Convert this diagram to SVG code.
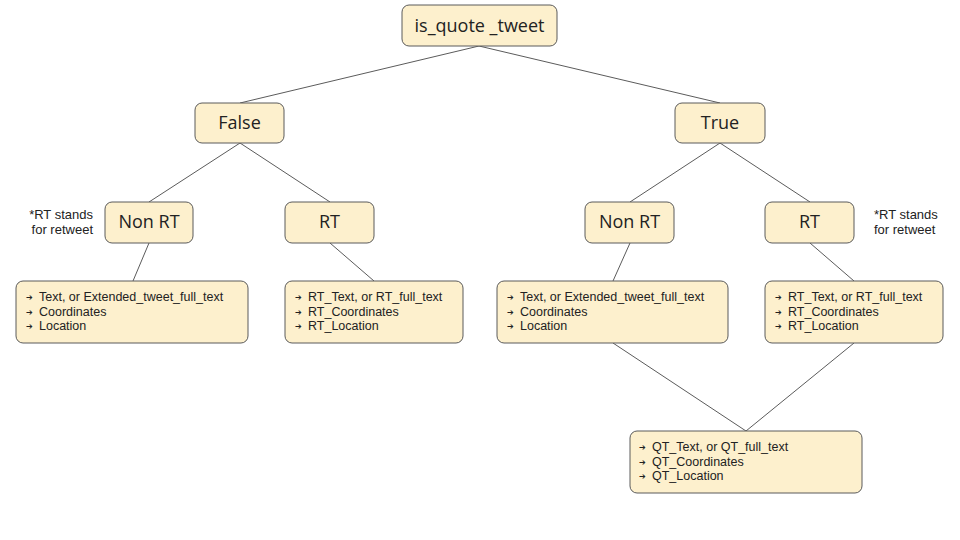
<svg xmlns="http://www.w3.org/2000/svg" width="960" height="540" viewBox="0 0 960 540">
<style>
.box{fill:#fdf0cd;stroke:#5b5b5b;stroke-width:1}
.lbl{font-family:"Open Sans","Liberation Sans",sans-serif;font-size:18px;fill:#222;text-anchor:middle}
.item{font-family:"Liberation Sans",Arial,sans-serif;font-size:12.5px;fill:#222}
.bul{font-family:"DejaVu Sans",sans-serif;font-size:8px;fill:#222}
.note{font-family:"Liberation Sans",Arial,sans-serif;font-size:13px;fill:#222}
.con line{stroke:#5b5b5b;stroke-width:1}
</style>
<rect width="960" height="540" fill="#ffffff"/>
<g id="connectors" class="con">
<line x1="479" y1="46" x2="240" y2="103"/>
<line x1="479" y1="46" x2="720" y2="103"/>
<line x1="240" y1="143" x2="149" y2="202"/>
<line x1="240" y1="143" x2="330" y2="202"/>
<line x1="720" y1="143" x2="630" y2="202"/>
<line x1="720" y1="143" x2="810" y2="202"/>
<line x1="149" y1="243" x2="133" y2="281"/>
<line x1="330" y1="243" x2="374" y2="281"/>
<line x1="630" y1="243" x2="613" y2="281"/>
<line x1="810" y1="243" x2="854" y2="281"/>
<line x1="613" y1="343" x2="746" y2="431"/>
<line x1="854" y1="343" x2="746" y2="431"/>
</g>
<g id="root"><rect class="box" x="402" y="5" width="155" height="41" rx="7"/><text class="lbl" x="479.5" y="32">is_quote _tweet</text></g>
<g id="false"><rect class="box" x="195" y="103" width="89" height="40" rx="7"/><text class="lbl" x="239.5" y="129">False</text></g>
<g id="true"><rect class="box" x="675" y="103" width="90" height="40" rx="7"/><text class="lbl" x="720" y="129">True</text></g>
<g id="nonrt-left"><rect class="box" x="105" y="202" width="88" height="41" rx="7"/><text class="lbl" x="149" y="228">Non RT</text></g>
<g id="rt-left"><rect class="box" x="285" y="202" width="89" height="41" rx="7"/><text class="lbl" x="329.5" y="228">RT</text></g>
<g id="nonrt-right"><rect class="box" x="585" y="202" width="89" height="41" rx="7"/><text class="lbl" x="629.5" y="228">Non RT</text></g>
<g id="rt-right"><rect class="box" x="765" y="202" width="89" height="41" rx="7"/><text class="lbl" x="809.5" y="228">RT</text></g>
<g id="note-left"><text class="note" text-anchor="end" x="93" y="219">*RT stands</text><text class="note" text-anchor="end" x="93" y="234">for retweet</text></g>
<g id="note-right"><text class="note" x="874" y="219">*RT stands</text><text class="note" x="874" y="234">for retweet</text></g>
<g id="list-nonrt-left"><rect class="box" x="16" y="281" width="232" height="62" rx="7"/>
<text class="bul" x="26" y="300">➔</text><text class="item" x="39" y="301">Text, or Extended_tweet_full_text</text>
<text class="bul" x="26" y="314.5">➔</text><text class="item" x="39" y="315.5">Coordinates</text>
<text class="bul" x="26" y="329">➔</text><text class="item" x="39" y="330">Location</text></g>
<g id="list-rt-left"><rect class="box" x="285" y="281" width="178" height="62" rx="7"/>
<text class="bul" x="295" y="300">➔</text><text class="item" x="308" y="301">RT_Text, or RT_full_text</text>
<text class="bul" x="295" y="314.5">➔</text><text class="item" x="308" y="315.5">RT_Coordinates</text>
<text class="bul" x="295" y="329">➔</text><text class="item" x="308" y="330">RT_Location</text></g>
<g id="list-nonrt-right"><rect class="box" x="497" y="281" width="231" height="62" rx="7"/>
<text class="bul" x="507" y="300">➔</text><text class="item" x="520" y="301">Text, or Extended_tweet_full_text</text>
<text class="bul" x="507" y="314.5">➔</text><text class="item" x="520" y="315.5">Coordinates</text>
<text class="bul" x="507" y="329">➔</text><text class="item" x="520" y="330">Location</text></g>
<g id="list-rt-right"><rect class="box" x="765" y="281" width="178" height="62" rx="7"/>
<text class="bul" x="775" y="300">➔</text><text class="item" x="788" y="301">RT_Text, or RT_full_text</text>
<text class="bul" x="775" y="314.5">➔</text><text class="item" x="788" y="315.5">RT_Coordinates</text>
<text class="bul" x="775" y="329">➔</text><text class="item" x="788" y="330">RT_Location</text></g>
<g id="list-qt"><rect class="box" x="630" y="431" width="232" height="62" rx="7"/>
<text class="bul" x="639" y="450">➔</text><text class="item" x="652" y="451">QT_Text, or QT_full_text</text>
<text class="bul" x="639" y="464.5">➔</text><text class="item" x="652" y="465.5">QT_Coordinates</text>
<text class="bul" x="639" y="479">➔</text><text class="item" x="652" y="480">QT_Location</text></g>
</svg>
